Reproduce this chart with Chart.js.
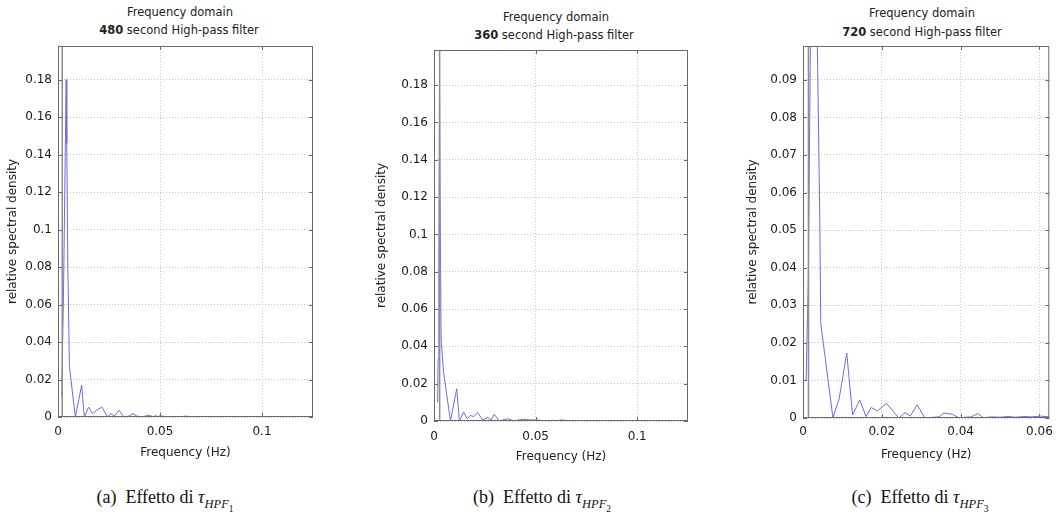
<!DOCTYPE html>
<html>
<head>
<meta charset="utf-8">
<script src="https://cdn.jsdelivr.net/npm/chart.js@4.4.1/dist/chart.umd.min.js"></script>
<style>
  body { margin: 0; background: #fff; width: 1060px; height: 526px; position: relative; overflow: hidden; font-family: "DejaVu Sans", sans-serif; }
  canvas { position: absolute; top: 0; }
  .ttl { position: absolute; width: 300px; text-align: center; font-size: 11.5px; line-height: 14px; color: #222; }
  .cap { position: absolute; width: 300px; text-align: center; font-family: "Liberation Serif", serif; font-size: 18px; color: #111; top: 487px; }
  .cap sub { font-size: 12.5px; }
  .cap sub sub { font-size: 9.5px; font-style: normal; }
</style>
</head>
<body>
<div class="ttl" style="left:30px;top:5px">Frequency domain</div>
<div class="ttl" style="left:29px;top:23px"><b>480</b> second High-pass filter</div>
<div class="ttl" style="left:406px;top:10px">Frequency domain</div>
<div class="ttl" style="left:404px;top:28px"><b>360</b> second High-pass filter</div>
<div class="ttl" style="left:772px;top:6px">Frequency domain</div>
<div class="ttl" style="left:772px;top:25px"><b>720</b> second High-pass filter</div>

<canvas id="chartA" width="340" height="470" style="left:0px"></canvas>
<canvas id="chartB" width="340" height="470" style="left:370px"></canvas>
<canvas id="chartC" width="340" height="470" style="left:720px"></canvas>

<div class="cap" style="left:15px">(a)&nbsp; Effetto di <i>τ</i><sub><i>HPF</i><sub>1</sub></sub></div>
<div class="cap" style="left:392px">(b)&nbsp; Effetto di <i>τ</i><sub><i>HPF</i><sub>2</sub></sub></div>
<div class="cap" style="left:770px">(c)&nbsp; Effetto di <i>τ</i><sub><i>HPF</i><sub>3</sub></sub></div>

<script>
// spectra (Hz, relative spectral density)
const freqA = [0.0019, 0.0021, 0.0027, 0.0040, 0.0043, 0.0048, 0.0056, 0.0085, 0.0116, 0.0129, 0.0150, 0.0169, 0.0189, 0.0215, 0.0242, 0.0259, 0.0275, 0.0299, 0.0324, 0.0348, 0.0367, 0.0388, 0.0420, 0.0445, 0.0465, 0.0480, 0.0490, 0.0500, 0.0530, 0.0570, 0.0600, 0.0624, 0.0650, 0.0750, 0.0850, 0.0950, 0.1050, 0.1150, 0.1250];
const densA = [0.0107, 0.0286, 0.066, 0.180, 0.146, 0.082, 0.027, 0.0, 0.017, 0.0, 0.0053, 0.0018, 0.0036, 0.0053, 0.0, 0.0018, 0.0004, 0.0036, 0.0, 0.0005, 0.0018, 0.0004, 0.0002, 0.0010, 0.0002, 0.0007, 0.0002, 0.0007, 0.0001, 0.0002, 0.0001, 0.0005, 0.0001, 0.0001, 0.0001, 0.0001, 0.0001, 0.0001, 0.0001];

const freqB = [0.0018, 0.0020, 0.0024, 0.0027, 0.0030, 0.0035, 0.0047, 0.0081, 0.0112, 0.0125, 0.0146, 0.0163, 0.0179, 0.0195, 0.0215, 0.0239, 0.0264, 0.0281, 0.0297, 0.0321, 0.0362, 0.0395, 0.0436, 0.0469, 0.0501, 0.0534, 0.0600, 0.0632, 0.0660, 0.0750, 0.0850, 0.0950, 0.1050, 0.1150, 0.1250];
const densB = [0.010, 0.033, 0.090, 0.181, 0.120, 0.044, 0.026, 0.0, 0.0173, 0.0, 0.0048, 0.0012, 0.0030, 0.0023, 0.0045, 0.0006, 0.0018, 0.0006, 0.0036, 0.0, 0.0012, 0.0001, 0.0009, 0.0006, 0.0005, 0.0003, 0.0001, 0.0006, 0.0001, 0.0001, 0.0001, 0.0001, 0.0001, 0.0001, 0.0001];

const freqC = [0.0008, 0.00136, 0.00255, 0.00426, 0.0045, 0.0076, 0.0092, 0.0111, 0.01258, 0.0144, 0.0160, 0.0173, 0.0189, 0.0212, 0.0243, 0.0259, 0.0272, 0.0290, 0.0309, 0.0330, 0.0345, 0.0358, 0.0379, 0.0396, 0.0412, 0.0427, 0.0444, 0.0457, 0.0480, 0.0500, 0.0520, 0.0540, 0.0560, 0.0580, 0.0602, 0.0625];
const densC = [0.0101, 0.0376, 0.180, 0.053, 0.0253, 0.0, 0.0053, 0.0173, 0.0008, 0.0048, 0.0004, 0.0028, 0.0019, 0.0039, 0.0, 0.0014, 0.0005, 0.0035, 0.0, 0.0002, 0.0003, 0.0013, 0.0010, 0.0, 0.0002, 0.0003, 0.0012, 0.0001, 0.0003, 0.0002, 0.0004, 0.0002, 0.0004, 0.0003, 0.0005, 0.0003];

// high-pass cutoff markers (1/480, 1/360, 1/720 Hz)
const cutoffA = 0.00208;
const cutoffB = 0.00278;
const cutoffC = 0.00139;

const xTicksAB = [0, 0.05, 0.1];
const xTicksC = [0, 0.02, 0.04, 0.06];
const yTicksAB = [0, 0.02, 0.04, 0.06, 0.08, 0.1, 0.12, 0.14, 0.16, 0.18];
const yTicksC = [0, 0.01, 0.02, 0.03, 0.04, 0.05, 0.06, 0.07, 0.08, 0.09];

const lineBlue = '#6b6bee';
const cutGray = '#8e8e8e';
const textCol = '#1a1a1a';

// box round the plot with little inward tick marks, MATLAB style
const framePlugin = {
  id: 'frame',
  afterDraw(chart) {
    const { ctx, chartArea: a, scales: { x, y } } = chart;
    ctx.save();
    ctx.strokeStyle = '#6a6a6a';
    ctx.lineWidth = 1;
    ctx.strokeRect(a.left + 0.5, a.top + 0.5, a.right - a.left - 1, a.bottom - a.top - 1);
    ctx.beginPath();
    x.ticks.forEach(t => {
      const px = Math.round(x.getPixelForValue(t.value)) + 0.5;
      ctx.moveTo(px, a.bottom); ctx.lineTo(px, a.bottom - 4);
      ctx.moveTo(px, a.top); ctx.lineTo(px, a.top + 4);
    });
    y.ticks.forEach(t => {
      const py = Math.round(y.getPixelForValue(t.value)) + 0.5;
      ctx.moveTo(a.left, py); ctx.lineTo(a.left + 4, py);
      ctx.moveTo(a.right, py); ctx.lineTo(a.right - 4, py);
    });
    ctx.stroke();
    ctx.restore();
  }
};

function makeChart(id, opt) {
  const points = opt.freq.map((f, i) => ({ x: f, y: opt.dens[i] }));
  return new Chart(document.getElementById(id), {
    type: 'line',
    data: {
      datasets: [
        {
          data: [{ x: opt.cutoff, y: 0 }, { x: opt.cutoff, y: opt.yMax }],
          borderColor: cutGray,
          borderWidth: 1.5
        },
        {
          data: points,
          borderColor: lineBlue,
          borderWidth: 1
        }
      ]
    },
    options: {
      responsive: false,
      animation: false,
      layout: { padding: opt.pad },
      elements: { point: { radius: 0 }, line: { tension: 0 } },
      plugins: { legend: { display: false }, tooltip: { enabled: false } },
      scales: {
        x: {
          type: 'linear',
          min: 0,
          max: opt.xMax,
          afterBuildTicks: s => { s.ticks = opt.xTicks.map(v => ({ value: v })); },
          afterFit: s => { s.height = opt.xH; },
          grid: { color: '#c6c6c6', drawTicks: false },
          border: { display: false, dash: [1, 2] },
          ticks: { padding: opt.xTickPad, color: textCol, font: { family: 'DejaVu Sans', size: 12 }, maxRotation: 0, autoSkip: false, callback: v => String(v) },
          title: { display: true, text: 'Frequency (Hz)', color: '#222', font: { family: 'DejaVu Sans', size: 12 }, padding: { top: 0, bottom: opt.xTitlePad } }
        },
        y: {
          min: 0,
          max: opt.yMax,
          afterBuildTicks: s => { s.ticks = opt.yTicks.map(v => ({ value: v })); },
          afterFit: s => { s.width = opt.yW; },
          grid: { color: '#c6c6c6', drawTicks: false },
          border: { display: false, dash: [1, 2] },
          ticks: { padding: 6, color: textCol, font: { family: 'DejaVu Sans', size: 12 }, autoSkip: false, callback: v => String(v) },
          title: { display: true, text: 'relative spectral density', color: '#222', font: { family: 'DejaVu Sans', size: 12 }, padding: { top: opt.yTitlePad, bottom: 0 } }
        }
      }
    },
    plugins: [framePlugin]
  });
}

makeChart('chartA', {
  freq: freqA, dens: densA, cutoff: cutoffA,
  xTicks: xTicksAB, yTicks: yTicksAB, xMax: 0.125, yMax: 0.198,
  pad: { top: 46, left: 0, right: 27, bottom: 0 }, yW: 58, xH: 53,
  xTickPad: 8, xTitlePad: 9.5, yTitlePad: 5.8
});

makeChart('chartB', {
  freq: freqB, dens: densB, cutoff: cutoffB,
  xTicks: xTicksAB, yTicks: yTicksAB, xMax: 0.125, yMax: 0.1988,
  pad: { top: 50, left: 0, right: 22, bottom: 0 }, yW: 64, xH: 49,
  xTickPad: 9, xTitlePad: 5.8, yTitlePad: 4.8
});

makeChart('chartC', {
  freq: freqC, dens: densC, cutoff: cutoffC,
  xTicks: xTicksC, yTicks: yTicksC, xMax: 0.0625, yMax: 0.099,
  pad: { top: 46, left: 0, right: 5, bottom: 0 }, yW: 83, xH: 52,
  xTickPad: 7, xTitlePad: 7.8, yTitlePad: 25.8
});
</script>
</body>
</html>
